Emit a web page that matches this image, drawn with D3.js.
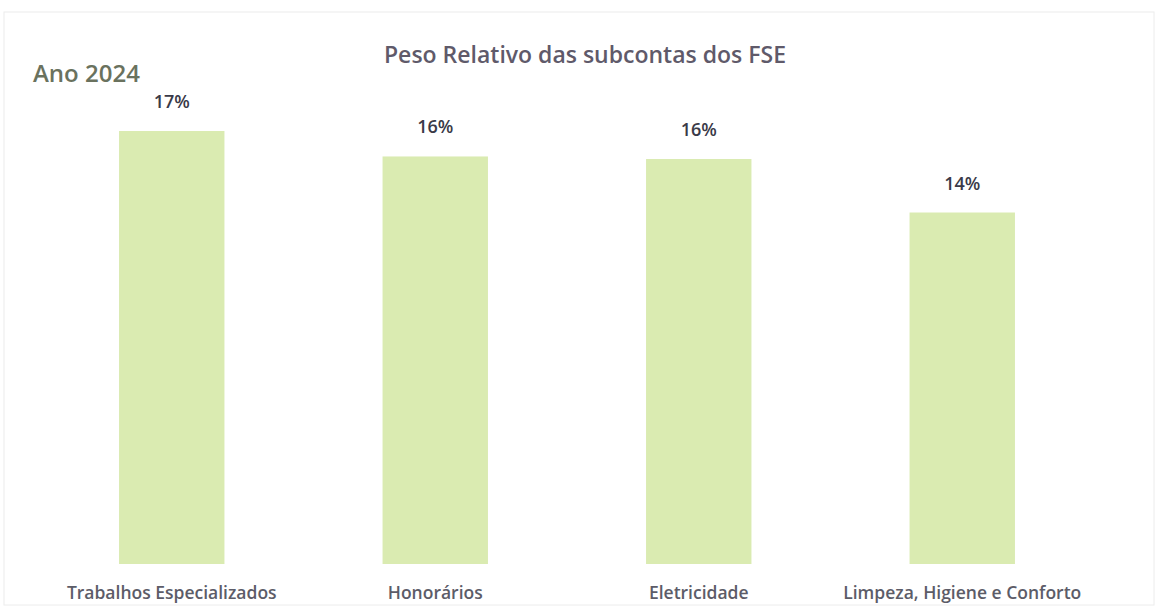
<!DOCTYPE html>
<html lang="pt">
<head>
<meta charset="UTF-8">
<title>Peso Relativo das subcontas dos FSE</title>
<script src="https://d3js.org/d3.v7.min.js"></script>
<style>
  body { margin: 0; background: #fff; }
  text { font-family: "Open Sans", "Noto Sans", sans-serif; }
</style>
</head>
<body>
<script>

var w = 1158;
var h = 607;

// data
var categories = ["Trabalhos Especializados", "Honorários", "Eletricidade", "Limpeza, Higiene e Conforto"];
var pesos = [0.170, 0.160, 0.159, 0.138];
var titulo = "Peso Relativo das subcontas dos FSE";
var ano = "Ano 2024";

var svg = d3.select("body")
    .append("svg")
    .attr("width", w)
    .attr("height", h);

// faint frame of the scanned chart area
svg.append("rect")
    .attr("x", 4)
    .attr("y", 12)
    .attr("width", w - 8)
    .attr("height", h - 14)
    .attr("fill", "none")
    .attr("stroke", "#ececec")
    .attr("stroke-width", 1);

var x = d3.scaleBand()
    .domain(categories)
    .range([40, 1094])
    .paddingInner(0.6)
    .paddingOuter(0.3);

var y = d3.scaleLinear()
    .domain([0, d3.max(pesos)])
    .range([564, 131]);

var fmt = d3.format(".0%");

svg.selectAll("rect.bar")
    .data(pesos)
    .enter()
    .append("rect")
    .attr("class", "bar")
    .attr("x", function(d, i) { return x(categories[i]); })
    .attr("y", function(d) { return y(d); })
    .attr("width", x.bandwidth())
    .attr("height", function(d) { return y(0) - y(d); })
    .attr("fill", "#daebb1");

svg.selectAll("text.val")
    .data(pesos)
    .enter()
    .append("text")
    .attr("class", "val")
    .attr("x", function(d, i) { return x(categories[i]) + x.bandwidth() / 2; })
    .attr("y", function(d) { return y(d) - 23; })
    .attr("text-anchor", "middle")
    .attr("font-size", "18px")
    .attr("font-weight", 600)
    .attr("fill", "#3a3a48")
    .text(function(d) { return fmt(d); });

svg.selectAll("text.cat")
    .data(categories)
    .enter()
    .append("text")
    .attr("class", "cat")
    .attr("x", function(d) { return x(d) + x.bandwidth() / 2; })
    .attr("y", 599)
    .attr("text-anchor", "middle")
    .attr("font-size", "17.5px")
    .attr("font-weight", 600)
    .attr("fill", "#5c5c68")
    .text(function(d) { return d; });

svg.append("text")
    .attr("x", 585)
    .attr("y", 63)
    .attr("text-anchor", "middle")
    .attr("font-size", "23px")
    .attr("font-weight", 600)
    .attr("fill", "#5f5a6a")
    .text(titulo);

svg.append("text")
    .attr("x", 33)
    .attr("y", 82)
    .attr("font-size", "24px")
    .attr("font-weight", 600)
    .attr("fill", "#6a725e")
    .text(ano);

</script>
</body>
</html>
